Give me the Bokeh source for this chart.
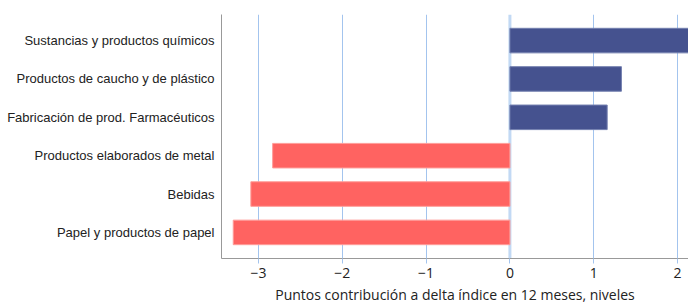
from bokeh.plotting import figure
from bokeh.models import FactorRange, Range1d, ColumnDataSource, Span, FixedTicker
from bokeh.embed import file_html
from bokeh.resources import INLINE

categories = [
    "Sustancias y productos químicos",
    "Productos de caucho y de plástico",
    "Fabricación de prod. Farmacéuticos",
    "Productos elaborados de metal",
    "Bebidas",
    "Papel y productos de papel",
]
values = [2.2, 1.33, 1.16, -2.83, -3.09, -3.30]
x_ticks = [-3, -2, -1, 0, 1, 2]
x_label = "Puntos contribución a delta índice en 12 meses, niveles"

pos_color = "#45528f"
neg_color = "#ff6361"
colors = [pos_color if v >= 0 else neg_color for v in values]
outline = ["#7480b0" if v >= 0 else "#ff9d99" for v in values]

src = ColumnDataSource(dict(cat=categories, val=values, color=colors, outline=outline))

p = figure(
    width=688, height=306,
    y_range=FactorRange(factors=list(reversed(categories)), range_padding=0.06, range_padding_units="percent"),
    x_range=Range1d(-3.44, 2.13),
    output_backend="svg", toolbar_location=None,
    min_border_left=221, min_border_right=0, min_border_top=14, min_border_bottom=0,
)
p.outline_line_color = None

p.xgrid.ticker = FixedTicker(ticks=[t for t in x_ticks if t != 0])
p.xgrid.grid_line_color = "#a3c4ee"
p.xgrid.grid_line_width = 1
p.ygrid.grid_line_color = None

zero = Span(location=0, dimension="height", line_color="#c2d9f4", line_width=3, level="underlay")
p.add_layout(zero)

p.hbar(y="cat", right="val", left=0, height=0.64, source=src,
       fill_color="color", line_color="outline", line_width=1)

p.xaxis.ticker = FixedTicker(ticks=x_ticks)
p.xaxis.axis_label = x_label
p.xaxis.axis_label_text_font = "Open Sans"
p.xaxis.axis_label_text_font_size = "14px"
p.xaxis.axis_label_text_font_style = "normal"
p.xaxis.axis_label_text_color = "#222222"
p.xaxis.axis_label_standoff = 4
p.xaxis.major_label_text_font = "Open Sans"
p.xaxis.major_label_text_font_size = "14px"
p.xaxis.major_label_text_color = "#222222"
p.xaxis.major_label_standoff = 4
p.xaxis.axis_line_color = "#999999"
p.xaxis.major_tick_line_color = "#a3c4ee"
p.xaxis.major_tick_out = 5
p.xaxis.major_tick_in = 0
p.xaxis.minor_tick_line_color = None

p.yaxis.axis_line_color = "#999999"
p.yaxis.major_tick_line_color = None
p.yaxis.major_tick_out = 0
p.yaxis.major_tick_in = 0
p.yaxis.minor_tick_line_color = None
p.yaxis.major_label_text_font = "Liberation Sans"
p.yaxis.major_label_text_font_size = "13px"
p.yaxis.major_label_text_color = "#222222"
p.yaxis.major_label_standoff = 7

open("out.html", "w").write(file_html(p, INLINE))
